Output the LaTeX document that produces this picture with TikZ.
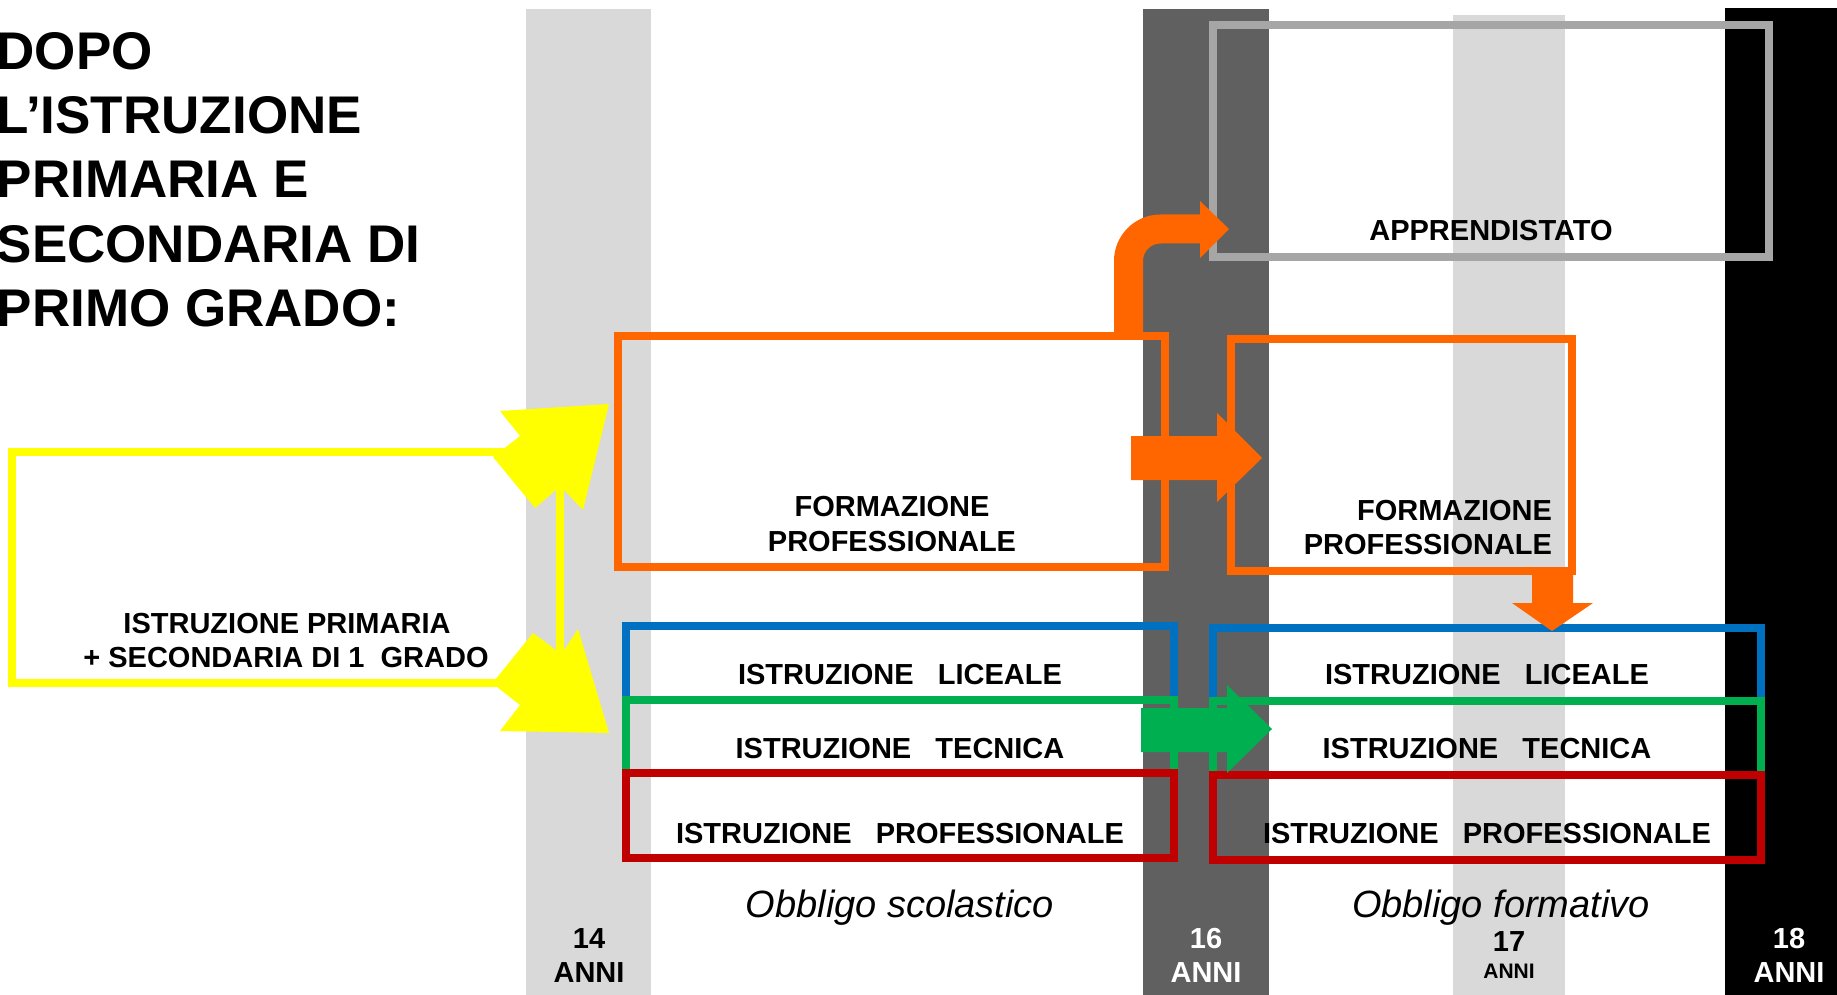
\documentclass[tikz,border=0pt]{standalone}
\usepackage{fontspec}
\setmainfont{Liberation Sans}
\usepackage{xcolor}

\definecolor{bandlight}{HTML}{D9D9D9}
\definecolor{banddark}{HTML}{606060}
\definecolor{fporange}{HTML}{FF6600}
\definecolor{apgray}{HTML}{A6A6A6}
\definecolor{licblue}{HTML}{0070C0}
\definecolor{tecgreen}{HTML}{00B050}
\definecolor{profred}{HTML}{C00000}
\definecolor{primyellow}{HTML}{FFFF00}

\tikzset{
  lbl/.style={inner sep=0, outer sep=0, anchor=base, font=\fontsize{29}{35}\selectfont\bfseries},
  pathbox/.style={draw, rectangle, line width=7.5pt, inner sep=0, outer sep=0},
}

\begin{document}
\begin{tikzpicture}[x=1pt, y=-1pt]
            \useasboundingbox (0,0) rectangle (1837,995);
            % Draw age bands
            \fill[bandlight] (526,9) rectangle (651,995);
            \fill[banddark] (1143,9) rectangle (1269,995);
            \fill[bandlight] (1453,15) rectangle (1565,995);
            \fill[black] (1725,8) rectangle (1837,995);

            % Title, one line at a time
            \foreach \txt [count=\i from 0] in {DOPO, L’ISTRUZIONE, PRIMARIA E, SECONDARIA DI, PRIMO GRADO:} {
                \node[inner sep=0, anchor=base west, font=\fontsize{53}{64}\selectfont\bfseries] (title\i) at (-3.5,70+64*\i) {\txt};
            }

            % Yellow frame with its two arrowheads
            \draw[primyellow, line width=8pt] (506,452) -- (12,452) -- (12,683) -- (500,683);
            \draw[primyellow, line width=8.5pt] (560,488) -- (560,652);
            \fill[primyellow] (500,411) -- (609,404) -- (583,510) -- (564,490) -- (556,490) -- (535,508) -- (493,457) -- (520,436) -- cycle;
            \fill[primyellow] (495,680) -- (533,633) -- (556,650) -- (564,650) -- (578,629) -- (609,733) -- (500,731) -- (520,705) -- (497,687) -- cycle;
            \node[lbl] (prim1) at (287,633) {ISTRUZIONE PRIMARIA};
            \node[lbl] (prim2) at (286,667) {+ SECONDARIA DI 1\ \ GRADO};

            % Boxes
            \node[pathbox, draw=apgray, minimum width=556pt, minimum height=232pt] (appr) at (1491,141) {};
            \node[pathbox, draw=fporange, minimum width=547pt, minimum height=231pt] (fpA) at (891.5,451.5) {};
            \node[pathbox, draw=fporange, minimum width=341pt, minimum height=232pt] (fpB) at (1401.5,455) {};
            \node[pathbox, draw=licblue, minimum width=548pt, minimum height=74pt] (licA) at (900,663) {};
            \node[pathbox, draw=tecgreen, minimum width=548pt, minimum height=73pt] (tecA) at (900,736.5) {};
            \node[pathbox, draw=profred, minimum width=548pt, minimum height=85pt] (proA) at (900,815.5) {};
            \node[pathbox, draw=licblue, minimum width=548pt, minimum height=73pt] (licB) at (1487,664.5) {};
            \node[pathbox, draw=tecgreen, minimum width=548pt, minimum height=74pt] (tecB) at (1487,738) {};
            \node[pathbox, draw=profred, minimum width=548pt, minimum height=85pt] (proB) at (1487,817.5) {};

            % Orange arrows: up to apprendistato, across, down
            \draw[fporange, line width=29pt, rounded corners=32pt] (1128.5,332) -- (1128.5,229) -- (1201,229);
            \fill[fporange] (1200,201) -- (1229,229) -- (1200,258) -- cycle;
            \fill[fporange] (1131,436) -- (1217,436) -- (1217,413) -- (1262,458) -- (1217,502) -- (1217,480) -- (1131,480) -- cycle;
            \fill[fporange] (1532,571) -- (1573,571) -- (1573,603) -- (1593,603) -- (1552,631) -- (1512,603) -- (1532,603) -- cycle;
            % Green arrow
            \fill[tecgreen] (1141,708) -- (1227,708) -- (1227,685) -- (1272,729) -- (1227,773) -- (1227,752) -- (1141,752) -- cycle;

            % Labels
            \node[lbl] (apprtxt) at (1491,241) {APPRENDISTATO};
            \node[lbl] (fpAtop) at (892,516) {FORMAZIONE};
            \node[lbl] (fpAbot) at (892,551) {PROFESSIONALE};
            \node[lbl, anchor=base east] (fpBtop) at (1552,520) {FORMAZIONE};
            \node[lbl, anchor=base east] (fpBbot) at (1552,554) {PROFESSIONALE};
            \foreach \x/\s in {900/A, 1487/B} {
                \node[lbl] (lic\s txt) at (\x,684) {ISTRUZIONE\ \ \ LICEALE};
                \node[lbl] (tec\s txt) at (\x,758) {ISTRUZIONE\ \ \ TECNICA};
                \node[lbl] (pro\s txt) at (\x,843) {ISTRUZIONE\ \ \ PROFESSIONALE};
            }
            \node[lbl, font=\fontsize{38}{46}\selectfont\itshape] (oblsc) at (900,917) {Obbligo scolastico};
            \node[lbl, font=\fontsize{38}{46}\selectfont\itshape] (oblfo) at (1501,917) {Obbligo formativo};

            % Ages under each band
            \foreach \x/\age/\col in {589/14/black, 1206/16/white, 1789/18/white} {
                \node[lbl, text=\col] (age\age) at (\x,948) {\age};
                \node[lbl, text=\col] (anni\age) at (\x,982) {ANNI};
            }
            \node[lbl] (age17) at (1509,951) {17};
            \node[lbl, font=\fontsize{21}{25}\selectfont\bfseries] (anni17) at (1509,978) {ANNI};
        \end{tikzpicture}
\end{document}
